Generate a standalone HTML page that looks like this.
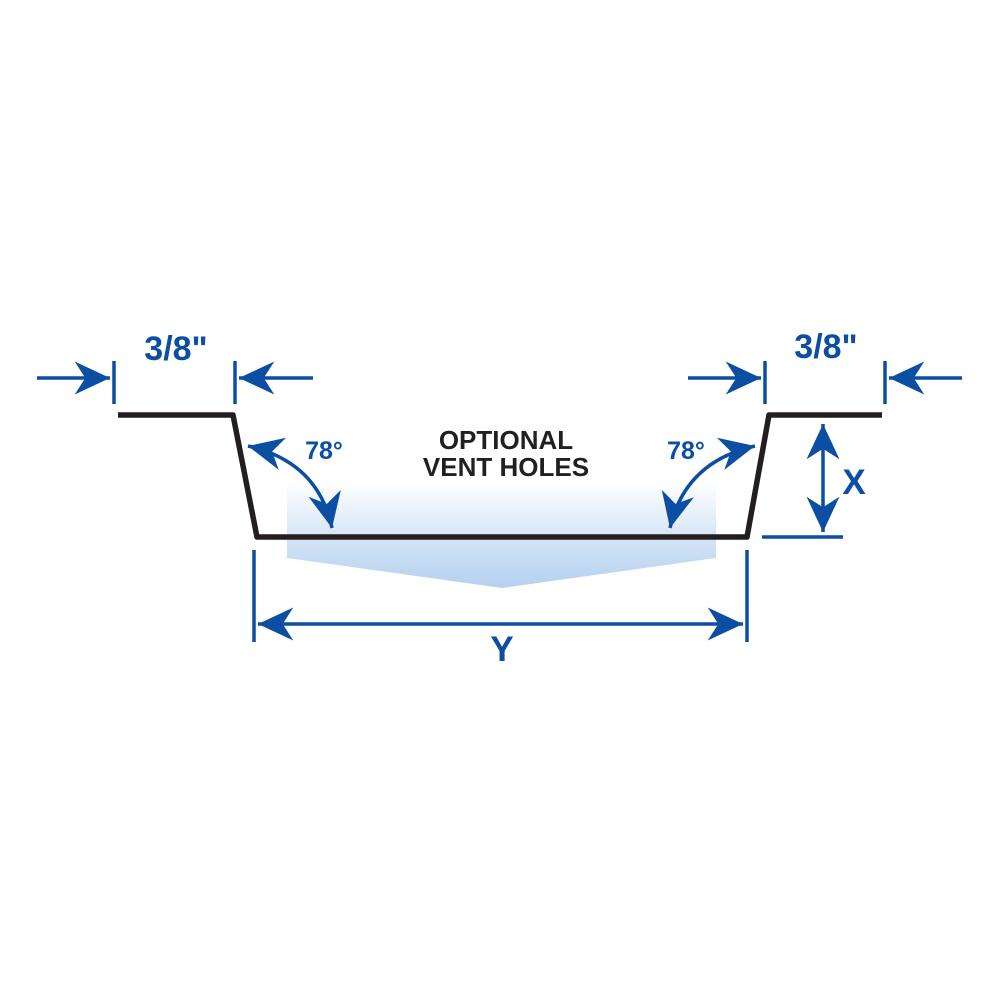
<!DOCTYPE html>
<html><head><meta charset="utf-8"><style>html,body{margin:0;padding:0;background:#fff}svg{display:block}</style></head>
<body>
<svg width="1000" height="1000" viewBox="0 0 1000 1000" xmlns="http://www.w3.org/2000/svg">
<defs>
<linearGradient id="g" x1="0" y1="0" x2="0" y2="1">
<stop offset="0" stop-color="#ffffff"/>
<stop offset="0.55" stop-color="#d3e3f5"/>
<stop offset="1" stop-color="#b5d0ee"/>
</linearGradient>
<marker id="a" markerUnits="userSpaceOnUse" markerWidth="40" markerHeight="40" viewBox="-32 -16 34 32" refX="0" refY="0" orient="auto-start-reverse">
<path d="M0,0 L-30,-14 L-21,0 L-30,14 Z" fill="#0b4ea2"/>
</marker>
</defs>
<polygon points="287,482 716,482 716,558 502,588 287,558" fill="url(#g)"/>
<g stroke="#0b4ea2" stroke-width="3.5" fill="none">
<line x1="114" y1="361" x2="114" y2="404"/>
<line x1="235" y1="361" x2="235" y2="404"/>
<line x1="37" y1="378" x2="110" y2="378" marker-end="url(#a)"/>
<line x1="313" y1="378" x2="239" y2="378" marker-end="url(#a)"/>
<line x1="765" y1="361" x2="765" y2="404"/>
<line x1="885" y1="361" x2="885" y2="404"/>
<line x1="688" y1="378" x2="761" y2="378" marker-end="url(#a)"/>
<line x1="962" y1="378" x2="889" y2="378" marker-end="url(#a)"/>
<line x1="762" y1="537" x2="843" y2="537"/>
<line x1="823" y1="424" x2="823" y2="532" marker-start="url(#a)" marker-end="url(#a)"/>
<line x1="254" y1="550" x2="254" y2="642"/>
<line x1="747" y1="550" x2="747" y2="642"/>
<line x1="258" y1="624" x2="743" y2="624" marker-start="url(#a)" marker-end="url(#a)"/>
<path d="M248,446 Q318,462 332,528" marker-start="url(#a)" marker-end="url(#a)"/>
<path d="M755,446 Q685,462 670,528" marker-start="url(#a)" marker-end="url(#a)"/>
</g>
<path d="M118,415 L233,415 L257,537 L747,537 L769,415 L882,415" fill="none" stroke="#231f20" stroke-width="5.5" stroke-linejoin="round"/>
<g font-family="Liberation Sans, sans-serif" font-weight="bold" text-anchor="middle">
<text x="176" y="360" font-size="34" fill="#0b4ea2">3/8"</text>
<text x="826" y="358" font-size="34" fill="#0b4ea2">3/8"</text>
<text x="324" y="459" font-size="25" fill="#0b4ea2">78°</text>
<text x="686" y="459" font-size="25" fill="#0b4ea2">78°</text>
<text x="506" y="449" font-size="26" fill="#231f20">OPTIONAL</text>
<text x="506" y="476" font-size="26" fill="#231f20">VENT HOLES</text>
<text x="854" y="494" font-size="35" fill="#0b4ea2">X</text>
<text x="502" y="661" font-size="35" fill="#0b4ea2">Y</text>
</g>
</svg>
</body></html>
